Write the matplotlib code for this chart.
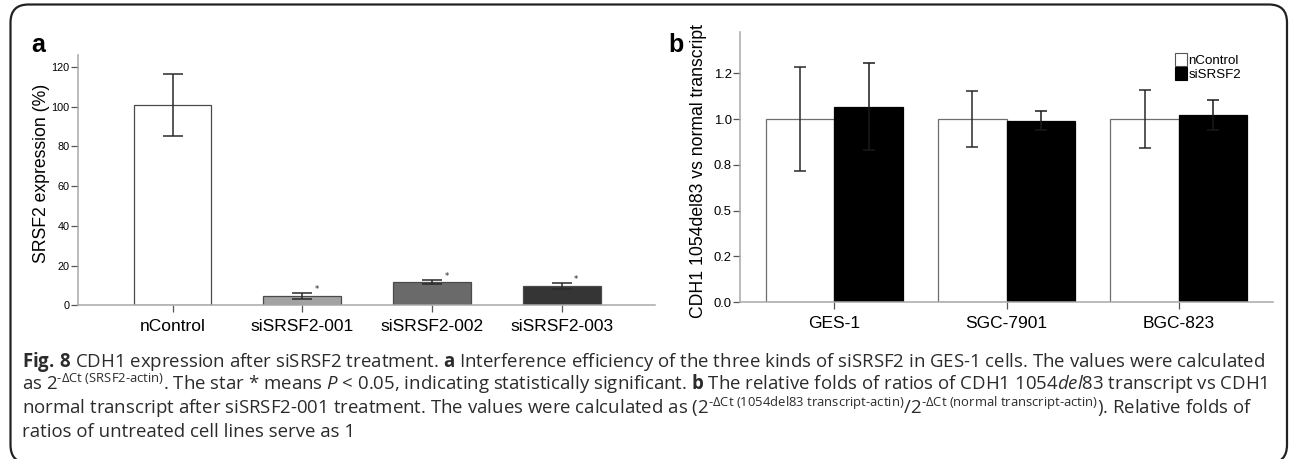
import matplotlib
matplotlib.use('Agg')
import matplotlib.pyplot as plt
from matplotlib.patches import Patch, FancyBboxPatch
from matplotlib.transforms import IdentityTransform
import numpy as np

# panel a: SRSF2 expression in GES-1 cells
groups_a = ['nControl', 'siSRSF2-001', 'siSRSF2-002', 'siSRSF2-003']
expr_a = [100.8, 4.7, 11.7, 9.7]
err_a = [15.5, 1.4, 1.15, 1.5]
colors_a = ['#ffffff', '#a2a2a2', '#6a6a6a', '#353535']
signif_a = [False, True, True, True]
yticks_a = [0, 20, 40, 60, 80, 100, 120]

# panel b: CDH1 1054del83 / normal ratio
cells_b = ['GES-1', 'SGC-7901', 'BGC-823']
ncontrol_b = [1.0, 1.0, 1.0]
ncontrol_err_b = [0.286, 0.153, 0.157]
sisrsf2_b = [1.067, 0.991, 1.022]
sisrsf2_err_b = [0.237, 0.053, 0.083]
yticks_b = [0, 0.25, 0.5, 0.75, 1.0, 1.25]
legend_b = ['nControl', 'siSRSF2']

caption = [
    r'$\mathbf{Fig.}\,\mathbf{8}$ CDH1 expression after siSRSF2 treatment. $\mathbf{a}$ Interference efficiency of the three kinds of siSRSF2 in GES-1 cells. The values were calculated',
    r'as $2^{\text{-}\Delta\text{Ct (SRSF2-actin)}}$. The star * means $\mathit{P}$ < 0.05, indicating statistically significant. $\mathbf{b}$ The relative folds of ratios of CDH1 1054$\mathit{del}$83 transcript vs CDH1',
    r'normal transcript after siSRSF2-001 treatment. The values were calculated as ($2^{\text{-}\Delta\text{Ct (1054del83 transcript-actin)}}$/$2^{\text{-}\Delta\text{Ct (normal transcript-actin)}}$). Relative folds of',
    'ratios of untreated cell lines serve as 1',
]

plain = ['Liberation Sans', 'DejaVu Sans']
plt.rcParams['mathtext.fontset'] = 'custom'
plt.rcParams['mathtext.rm'] = 'Open Sans'
plt.rcParams['mathtext.it'] = 'Open Sans:italic'
plt.rcParams['mathtext.bf'] = 'Open Sans:bold'

W, H = 1290, 459
fig = plt.figure(figsize=(W / 100, H / 100), dpi=100)

spine_col = '#a8a8a8'
tick_col = '#555555'


def style_axes(ax):
    for s in ['top', 'right']:
        ax.spines[s].set_visible(False)
    for s in ['left', 'bottom']:
        ax.spines[s].set_color(spine_col)
        ax.spines[s].set_linewidth(1.1)
    ax.tick_params(axis='both', direction='out', length=5, width=0.9, color=tick_col)


# ---- panel a
ax1 = fig.add_axes([78 / W, 1 - 305.3 / H, 577 / W, 250.3 / H])
x = np.arange(len(groups_a))
ax1.bar(x, expr_a, width=0.6, color=colors_a, edgecolor='#4a4a4a', linewidth=0.9, zorder=2)
ax1.errorbar(x, expr_a, yerr=err_a, fmt='none', ecolor='#2a2a2a', elinewidth=1.1,
             capsize=7, capthick=1.1, zorder=3)
for i in range(len(groups_a)):
    if signif_a[i]:
        ax1.text(x[i] + 0.11, expr_a[i] + err_a[i] + 1.8, '*', fontsize=6,
                 ha='center', va='center', color='#222222')
ax1.set_xlim(-0.728, 3.716)
ax1.set_ylim(0, 126)
ax1.set_xticks(x)
ax1.set_xticklabels(groups_a, family=plain, fontsize=12.5)
ax1.set_yticks(yticks_a)
ax1.set_yticklabels([str(v) for v in yticks_a], family=plain, fontsize=7.8)
style_axes(ax1)
ax1.tick_params(axis='x', pad=5)
ax1.tick_params(axis='y', pad=1)
ax1.set_ylabel('SRSF2 expression (%)', family=plain, fontsize=12.7)
ax1.yaxis.set_label_coords(-0.048, 0.528)
fig.text(31 / W, 1 - 52 / H, 'a', family=plain, fontweight='bold', fontsize=18, va='baseline')

# ---- panel b
ax2 = fig.add_axes([740 / W, 1 - 302.3 / H, 533.3 / W, 270 / H])
xb = np.arange(len(cells_b))
bw = 0.397
ax2.bar(xb - bw / 2, ncontrol_b, width=bw, color='white', edgecolor='#6e6e6e', linewidth=0.9, zorder=2)
ax2.errorbar(xb - bw / 2, ncontrol_b, yerr=ncontrol_err_b, fmt='none', ecolor='#2a2a2a',
             elinewidth=1.1, capsize=4.3, capthick=1.1, zorder=3)
ax2.bar(xb + bw / 2, sisrsf2_b, width=bw, color='black', edgecolor='black', linewidth=0.9, zorder=2)
ax2.errorbar(xb + bw / 2, sisrsf2_b, yerr=sisrsf2_err_b, fmt='none', ecolor='#1a1a1a',
             elinewidth=1.1, capsize=4.3, capthick=1.1, zorder=3)
ax2.set_xlim(-0.548, 2.549)
ax2.set_ylim(0, 1.473)
ax2.set_xticks(xb)
ax2.set_xticklabels(cells_b, family=plain, fontsize=12.5)
ax2.set_yticks(yticks_b)
ax2.set_yticklabels(['%.1f' % v for v in yticks_b], family=plain, fontsize=9.4)
style_axes(ax2)
ax2.tick_params(axis='x', pad=5)
ax2.tick_params(axis='y', pad=1)
ax2.set_ylabel('CDH1 1054del83 vs normal transcript', family=plain, fontsize=12.7)
ax2.yaxis.set_label_coords(-0.062, 0.486)
fig.text(668 / W, 1 - 52 / H, 'b', family=plain, fontweight='bold', fontsize=18, va='baseline')

handles = [Patch(facecolor='white', edgecolor='#555555', linewidth=0.8),
           Patch(facecolor='black', edgecolor='black', linewidth=0.8)]
fig.legend(handles, legend_b, loc='upper left', bbox_to_anchor=(1175 / W, 1 - 53 / H),
           frameon=False, prop={'family': plain, 'size': 9.6}, handlelength=0.9,
           handleheight=1.1, handletextpad=0.1, labelspacing=0.0, borderpad=0, borderaxespad=0)

# ---- caption
base_y = [366.5, 390, 413.5, 437]
for line, yy in zip(caption, base_y):
    fig.text(21.5 / W, 1 - yy / H, line, family='Open Sans', fontsize=13.4,
             color='#2b2b2b', va='baseline', ha='left')

# ---- frame
frame = FancyBboxPatch((10.5, -4), 1276.5, 454.5 + 4, boxstyle='round,pad=0,rounding_size=18',
                       transform=IdentityTransform(), fill=False, linewidth=1.6, edgecolor='#222222')
fig.add_artist(frame)

fig.savefig('out.png', dpi=100)
